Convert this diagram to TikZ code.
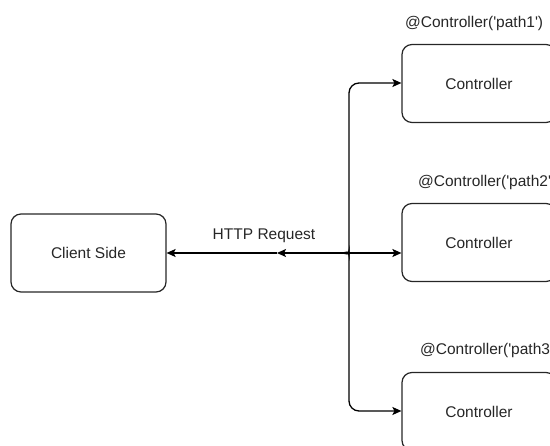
\documentclass[tikz,border=0pt]{standalone}
\usepackage{fontspec}
\setmainfont{Liberation Sans}
\usetikzlibrary{arrows.meta}
\newcommand{\sq}{\textquotesingle}
\begin{document}
\begin{tikzpicture}[x=1pt,y=-1pt,
  every node/.style={font=\fontsize{15.5}{18}\selectfont, text=black!85},
  box/.style={draw=black!85, line width=1.2pt, rounded corners=10pt,
    minimum width=155pt, minimum height=78pt, inner sep=0pt},
  link/.style={draw=black, line width=1.3pt},
  tip/.style={-{Stealth[length=9pt,width=8pt,inset=2pt]}},
  annot/.style={anchor=west, inner sep=0pt}]
\useasboundingbox (0,0) rectangle (550,446);
\clip (0,0) rectangle (550,446);

% client and controllers
\node[box] (client) at (88.5,253) {Client Side};
\node[box, minimum width=154pt] (c1) at (479,83.5) {Controller};
\node[box, minimum width=154pt] (c2) at (479,242.5) {Controller};
\node[box, minimum width=154pt] (c3) at (479,411.5) {Controller};

% decorator labels
\node[annot] (l1) at (405,23) {@Controller(\sq path1\sq)};
\node[annot] (l2) at (418,182) {@Controller(\sq path2\sq)};
\node[annot] (l3) at (420,350) {@Controller(\sq path3\sq)};

% request label
\node (req) at (264,236) {HTTP Request};

% brace tip and mid-arrow point
\coordinate (tip) at (342,253);
\coordinate (mid) at (277,253);

% branches of the brace
\draw[link, tip, rounded corners=10pt]
  (tip) .. controls (346,253) and (349,250) .. (349,245) |- (c1.west |- 0,83);
\draw[link, tip, rounded corners=10pt]
  (tip) .. controls (346,253) and (349,256) .. (349,261) |- (c3.west |- 0,411);
\draw[link, tip] (tip) -- (c2.west |- tip);

% request back to the client
\draw[link, tip] (tip) -- (mid);
\draw[link, tip] (mid) -- (client.east);
\end{tikzpicture}
\end{document}
